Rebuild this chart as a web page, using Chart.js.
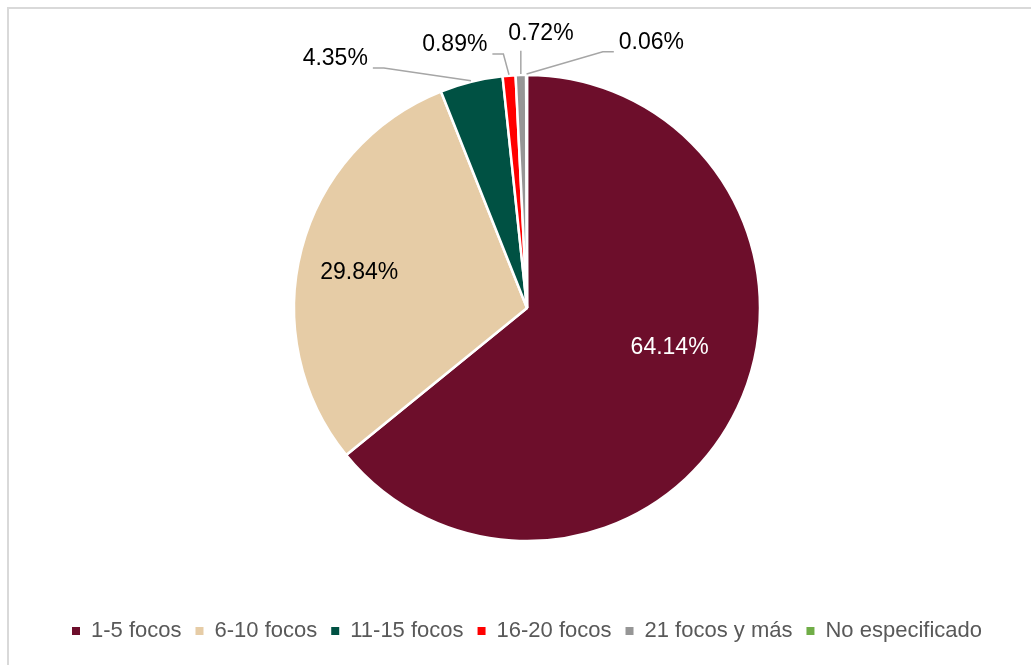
<!DOCTYPE html>
<html>
<head>
<meta charset="utf-8">
<script src="https://cdn.jsdelivr.net/npm/chart.js@4.4.1/dist/chart.umd.min.js"></script>
<style>
    html, body { margin: 0; padding: 0; background: #fff; }
    #wrap { position: relative; width: 1031px; height: 665px; overflow: hidden; }
    #frame { position: absolute; left: 7px; top: 7px; width: 1060px; height: 700px; border: 2px solid #d9d9d9; box-sizing: border-box; }
    #chart { position: absolute; left: 0; top: 0; }
</style>
</head>
<body>
<div id="wrap">
    <div id="frame"></div>
    <canvas id="chart" width="1031" height="665"></canvas>
</div>
<script>
// datos
const categorias = ['1-5 focos', '6-10 focos', '11-15 focos', '16-20 focos', '21 focos y más', 'No especificado'];
const porcentajes = [64.14, 29.84, 4.35, 0.89, 0.72, 0.06];
const colores = ['#6d0e2b', '#e6cca6', '#005143', '#ff0000', '#969696', '#70ad47'];

// donde va cada etiqueta (en radios desde el centro) y como se une con la rebanada
const etiquetas = [
    { rx: 0.612, ry: 0.172, color: '#ffffff', linea: null },
    { rx: -0.720, ry: -0.151, color: '#000000', linea: null },
    { rx: -0.823, ry: -1.069, color: '#000000', linea: 'derecha' },
    { rx: -0.310, ry: -1.129, color: '#000000', linea: 'derecha' },
    { rx: 0.060, ry: -1.177, color: '#000000', linea: 'abajo' },
    { rx: 0.534, ry: -1.138, color: '#000000', linea: 'izquierda' }
];

const etiquetasPlugin = {
    id: 'etiquetas',
    afterDatasetsDraw(chart) {
        const ctx = chart.ctx;
        const meta = chart.getDatasetMeta(0);
        ctx.save();
        ctx.font = '23px "Liberation Sans", Arial, sans-serif';
        ctx.textAlign = 'center';
        ctx.textBaseline = 'middle';
        meta.data.forEach((arc, i) => {
            const p = arc.getProps(['x', 'y', 'startAngle', 'endAngle', 'outerRadius'], true);
            const cfg = etiquetas[i];
            const texto = porcentajes[i].toFixed(2) + '%';
            const tx = p.x + cfg.rx * p.outerRadius;
            const ty = p.y + cfg.ry * p.outerRadius;
            const w = ctx.measureText(texto).width;

            if (cfg.linea) {
                const mid = (p.startAngle + p.endAngle) / 2;
                const ax = p.x + (p.outerRadius + 1) * Math.cos(mid);
                const ay = p.y + (p.outerRadius + 1) * Math.sin(mid);
                ctx.strokeStyle = '#a6a6a6';
                ctx.lineWidth = 1.5;
                ctx.beginPath();
                if (cfg.linea === 'derecha') {
                    const sx = tx + w / 2 + 5, sy = ty + 9;
                    ctx.moveTo(sx, sy);
                    ctx.lineTo(sx + 11, sy);
                    ctx.lineTo(ax, ay);
                } else if (cfg.linea === 'izquierda') {
                    const sx = tx - w / 2 - 5, sy = ty + 9;
                    ctx.moveTo(sx, sy);
                    ctx.lineTo(sx - 11, sy);
                    ctx.lineTo(ax, ay);
                } else {
                    ctx.moveTo(ax, ty + 17);
                    ctx.lineTo(ax, ay);
                }
                ctx.stroke();
            }

            ctx.fillStyle = cfg.color;
            ctx.fillText(texto, tx, ty);
        });
        ctx.restore();
    }
};

new Chart(document.getElementById('chart').getContext('2d'), {
    type: 'pie',
    data: {
        labels: categorias,
        datasets: [{
            data: porcentajes,
            backgroundColor: colores,
            borderColor: '#ffffff',
            borderWidth: 2.5,
            radius: 233
        }]
    },
    options: {
        responsive: false,
        animation: false,
        radius: 233,
        layout: {
            padding: { top: 10, bottom: 13, left: 23, right: 0 }
        },
        plugins: {
            tooltip: { enabled: false },
            legend: {
                position: 'bottom',
                labels: {
                    boxWidth: 8,
                    boxHeight: 8,
                    padding: 14,
                    color: '#595959',
                    font: { family: '"Liberation Sans", Arial, sans-serif', size: 22 },
                    generateLabels(chart) {
                        return categorias.map((c, i) => ({
                            text: c,
                            fillStyle: colores[i],
                            strokeStyle: colores[i],
                            lineWidth: 0,
                            fontColor: '#595959',
                            hidden: false,
                            index: i
                        }));
                    }
                }
            }
        }
    },
    plugins: [etiquetasPlugin]
});
</script>
</body>
</html>
